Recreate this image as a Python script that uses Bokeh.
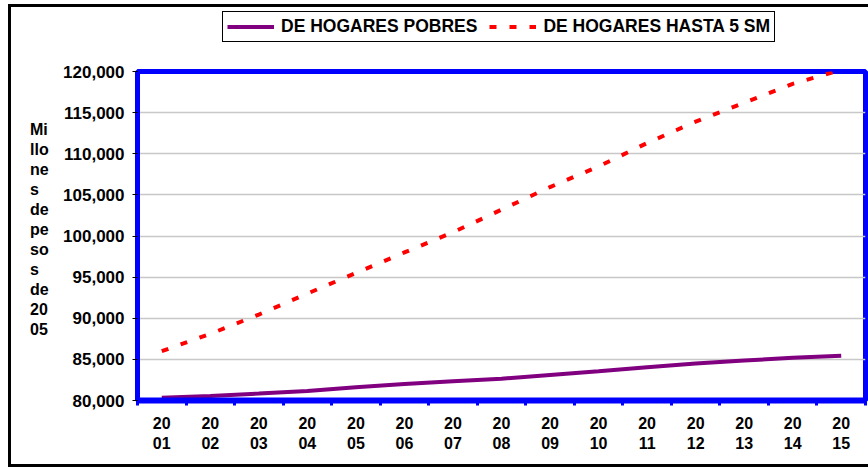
from bokeh.plotting import figure
from bokeh.models import (FixedTicker, NumeralTickFormatter, Legend, LegendItem,
                          ColumnDataSource, Range1d, Div)
from bokeh.layouts import row, column
from bokeh.embed import file_html
from bokeh.resources import INLINE

# ---- data ----
years = ["2001", "2002", "2003", "2004", "2005", "2006", "2007", "2008",
         "2009", "2010", "2011", "2012", "2013", "2014", "2015"]
year_tick_labels = [y[:2] + "\n" + y[2:] for y in years]
hogares_pobres = [80330, 80560, 80850, 81160, 81600, 82000, 82350, 82650,
                  83100, 83550, 84050, 84500, 84850, 85200, 85450]
hogares_hasta_5sm = [86000, 88100, 90450, 93000, 95500, 98000, 100450, 103200,
                     105950, 108450, 111300, 113900, 116200, 118500, 120200]
y_ticks = [80000, 85000, 90000, 95000, 100000, 105000, 110000, 115000, 120000]
y_label_lines = ["Mi", "llo", "ne", "s", "de", "pe", "so", "s", "de", "20", "05"]
series_names = ["DE HOGARES POBRES", "DE HOGARES HASTA 5 SM"]

n = len(years)
x_centers = [i + 0.5 for i in range(n)]
src = ColumnDataSource(dict(x=x_centers, pobres=hogares_pobres, hasta=hogares_hasta_5sm))

FONT = "Liberation Sans"
TOTAL_W, TOTAL_H = 857, 457
LEG_H = 50
DIV_W = 45
MAIN_H = TOTAL_H - LEG_H

purple = dict(line_color="#800080", line_width=4)
red = dict(line_color="#ff0000", line_width=4, line_dash="7 13")

# ---- main chart ----
p = figure(width=TOTAL_W - DIV_W, height=MAIN_H, output_backend="svg",
           toolbar_location=None,
           x_range=Range1d(0, n), y_range=Range1d(y_ticks[0], y_ticks[-1]),
           min_border_left=126 - DIV_W, min_border_right=3, min_border_top=14,
           min_border_bottom=64)
p.background_fill_color = "white"
p.border_fill_color = "white"
p.outline_line_color = "#0000ff"
p.outline_line_width = 5

p.xgrid.grid_line_color = None
p.ygrid.grid_line_color = "#c8c8c8"
p.ygrid.grid_line_width = 1.5

# x axis: labels at centers, ticks at category boundaries
p.xaxis.ticker = FixedTicker(ticks=x_centers, minor_ticks=list(range(n + 1)))
p.xaxis.major_label_overrides = {x: lab for x, lab in zip(x_centers, year_tick_labels)}
p.xaxis.major_tick_line_color = None
p.xaxis.minor_tick_line_color = "#0000ff"
p.xaxis.minor_tick_line_width = 3
p.xaxis.minor_tick_out = 5
p.xaxis.minor_tick_in = 0
p.xaxis.axis_line_color = "#0000ff"
p.xaxis.axis_line_width = 6
p.xaxis.major_label_text_font = FONT
p.xaxis.major_label_text_font_style = "bold"
p.xaxis.major_label_text_font_size = "16px"
p.xaxis.major_label_text_color = "black"
p.xaxis.major_label_standoff = 8

p.yaxis.ticker = FixedTicker(ticks=y_ticks)
p.yaxis.formatter = NumeralTickFormatter(format="0,0")
p.yaxis.minor_tick_line_color = None
p.yaxis.major_tick_line_color = "black"
p.yaxis.major_tick_out = 5
p.yaxis.major_tick_in = 0
p.yaxis.axis_line_color = "#0000ff"
p.yaxis.axis_line_width = 5
p.yaxis.major_label_text_font = FONT
p.yaxis.major_label_text_font_style = "bold"
p.yaxis.major_label_text_font_size = "17px"
p.yaxis.major_label_text_color = "black"
p.yaxis.major_label_standoff = 8

p.line("x", "pobres", source=src, **purple)
p.line("x", "hasta", source=src, **red)

# ---- legend strip above the chart ----
lf = figure(width=TOTAL_W, height=LEG_H, output_backend="svg", toolbar_location=None,
            x_range=Range1d(0, 1), y_range=Range1d(0, 1),
            min_border_left=0, min_border_right=0, min_border_top=0,
            min_border_bottom=0)
lf.axis.visible = False
lf.grid.visible = False
lf.outline_line_color = None
lf.background_fill_color = "white"
lf.border_fill_color = "white"
# same series, drawn out of this strip's view: only their legend samples show
k1 = lf.line("x", "pobres", source=src, **purple)
k2 = lf.line("x", "hasta", source=src, **red)
legend = Legend(items=[LegendItem(label=series_names[0], renderers=[k1]),
                       LegendItem(label=series_names[1], renderers=[k2])],
                orientation="horizontal", location=(211, 15))
legend.margin = 0
legend.label_text_font = FONT
legend.label_text_font_style = "bold"
legend.label_text_font_size = "17.5px"
legend.label_text_color = "black"
legend.glyph_width = 47
legend.glyph_height = 19
legend.label_standoff = 7
legend.spacing = 12
legend.padding = 4
legend.border_line_color = "black"
legend.border_line_alpha = 1
legend.border_line_width = 1.5
legend.background_fill_color = "white"
legend.background_fill_alpha = 1
lf.add_layout(legend, "center")

# ---- y-axis title, stacked short lines like the original ----
ylabel_html = ("<div style=\"font-family:'Liberation Sans';font-weight:bold;"
               "font-size:16px;line-height:20px;color:black;"
               "padding-left:19px;padding-top:63px;\">"
               + "<br>".join(y_label_lines) + "</div>")
ydiv = Div(text=ylabel_html, width=DIV_W, height=MAIN_H,
           styles={"background-color": "white", "margin": "0"})

layout = column(lf, row(ydiv, p, spacing=0), spacing=0)
layout.styles = {"margin-left": "8px", "margin-top": "4px",
                 "border-left": "3px solid black", "border-top": "3px solid black",
                 "border-bottom": "3px solid black", "background-color": "white"}

open("out.html", "w").write(file_html(layout, INLINE))
